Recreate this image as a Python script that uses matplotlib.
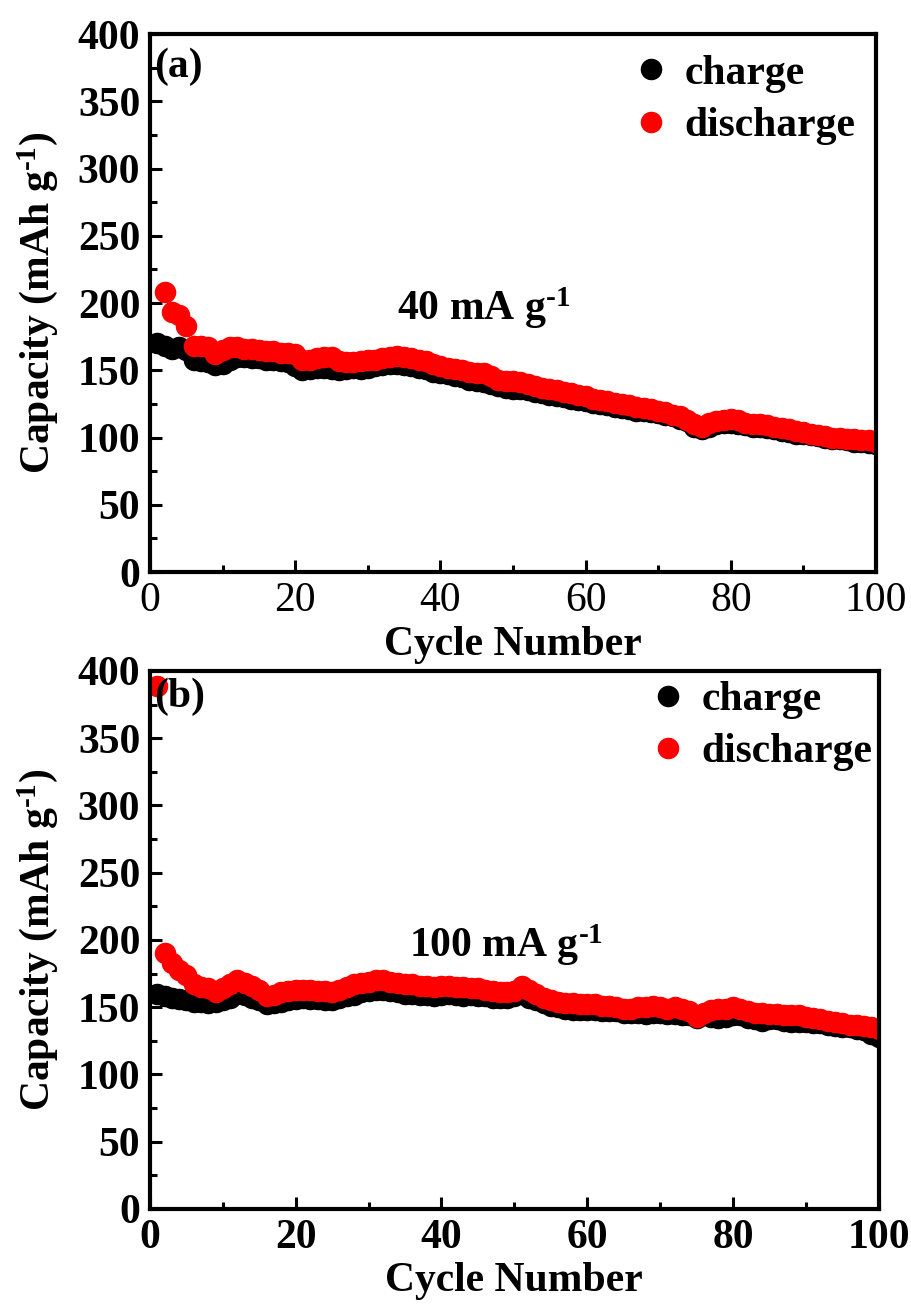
import numpy as np
import matplotlib
matplotlib.use("Agg")
import matplotlib.pyplot as plt
from matplotlib.ticker import MultipleLocator

# cycle numbers
cycles = np.arange(1, 101)

# (a) 40 mA g-1
charge_a = [170, 168, 166, 167, 165, 158, 157, 156, 154, 155,
            158, 160, 160, 159, 159, 158, 158, 157, 156, 153,
            150, 151, 152, 152, 151, 150, 151, 152, 151, 152,
            153, 154, 155, 155, 154, 153, 152, 151, 149, 148,
            147, 146, 145, 143, 142, 141, 140, 138, 137, 136,
            136, 135, 134, 133, 132, 131, 130, 129, 128, 127,
            126, 125, 124, 123, 122, 121, 120, 120, 119, 118,
            117, 116, 114, 112, 108, 106, 108, 110, 111, 111,
            110, 109, 108, 108, 107, 106, 105, 104, 103, 103,
            102, 101, 100, 99, 99, 98, 97, 97, 96, 95]
# discharge in (a) starts from cycle 2
discharge_a = [np.nan, 208, 193, 191, 183, 168, 168, 167, 162, 165,
               167, 167, 166, 166, 165, 164, 164, 163, 163, 162,
               158, 158, 159, 160, 160, 157, 156, 156, 157, 158,
               158, 159, 160, 161, 160, 159, 158, 157, 155, 153,
               152, 151, 150, 149, 148, 148, 146, 143, 142, 142,
               141, 140, 138, 137, 136, 135, 134, 133, 132, 131,
               129, 128, 127, 126, 125, 124, 123, 122, 121, 120,
               119, 117, 116, 113, 110, 108, 111, 112, 113, 114,
               113, 111, 110, 110, 109, 108, 107, 106, 105, 104,
               103, 102, 101, 100, 100, 99, 99, 98, 98, 97]

# (b) 100 mA g-1
charge_b = [160, 158, 157, 156, 155, 154, 154, 153, 154, 155,
            157, 160, 159, 157, 155, 152, 153, 154, 155, 156,
            157, 156, 156, 155, 155, 157, 158, 159, 161, 162,
            163, 163, 162, 161, 160, 160, 159, 159, 158, 159,
            160, 159, 158, 159, 158, 158, 157, 157, 157, 158,
            160, 157, 155, 153, 151, 150, 149, 148, 148, 148,
            148, 147, 147, 147, 146, 146, 146, 145, 146, 146,
            145, 145, 144, 144, 142, 144, 143, 142, 143, 144,
            144, 142, 141, 140, 141, 141, 140, 139, 139, 139,
            138, 138, 137, 136, 135, 135, 134, 133, 130, 128]
discharge_b = [389, 190, 183, 178, 174, 167, 165, 164, 161, 164,
               167, 170, 168, 166, 163, 158, 159, 161, 162, 163,
               163, 163, 162, 162, 161, 163, 165, 167, 168, 169,
               170, 170, 169, 168, 167, 167, 166, 166, 165, 166,
               166, 165, 165, 164, 164, 163, 162, 161, 161, 162,
               166, 163, 160, 157, 155, 154, 153, 153, 152, 152,
               152, 151, 151, 150, 149, 149, 150, 150, 151, 150,
               149, 150, 149, 147, 143, 146, 148, 149, 149, 150,
               149, 147, 146, 146, 145, 145, 144, 144, 144, 143,
               142, 141, 140, 139, 138, 137, 137, 136, 135, 134]

panel_tags = ["(a)", "(b)"]
rate_labels = [r"40 mA g$^{\text{-1}}$", r"100 mA g$^{\text{-1}}$"]

plt.rcParams['font.family'] = ['Liberation Serif', 'DejaVu Serif']
plt.rcParams['font.weight'] = 'bold'
plt.rcParams['mathtext.fontset'] = 'custom'
plt.rcParams['mathtext.rm'] = 'Liberation Serif:bold'
plt.rcParams['mathtext.it'] = 'Liberation Serif:bold'
plt.rcParams['mathtext.bf'] = 'Liberation Serif:bold'
plt.rcParams['mathtext.default'] = 'regular'

FS = 30

fig = plt.figure(figsize=(9.12, 13.04), dpi=100)
ax_a = fig.add_axes([0.1645, 0.5613, 0.796, 0.4126])
ax_b = fig.add_axes([0.1645, 0.0729, 0.799, 0.4126])

panels = [(ax_a, charge_a, discharge_a), (ax_b, charge_b, discharge_b)]

for i, (ax, ch, dis) in enumerate(panels):
    ax.plot(cycles, ch, 'o', color='black', markersize=14.5, linestyle='none', label='charge')
    ax.plot(cycles, dis, 'o', color='#ff0000', markersize=14.5, linestyle='none', label='discharge')

    ax.set_xlim(0, 100)
    ax.set_ylim(0, 400)
    ax.xaxis.set_major_locator(MultipleLocator(20))
    ax.xaxis.set_minor_locator(MultipleLocator(10))
    ax.yaxis.set_major_locator(MultipleLocator(50))
    ax.yaxis.set_minor_locator(MultipleLocator(25))
    ax.tick_params(which='both', direction='in', width=2.2, top=False, right=False)
    ax.tick_params(which='major', length=8.5, pad=7)
    ax.tick_params(which='minor', length=5)
    for sp in ax.spines.values():
        sp.set_linewidth(3)

    for lab in ax.get_yticklabels():
        lab.set_fontsize(FS)
        lab.set_fontweight('bold')
    for lab in ax.get_xticklabels():
        lab.set_fontsize(FS)
        # top panel x tick labels are regular weight
        lab.set_fontweight('normal' if i == 0 else 'bold')

    ax.set_xlabel("Cycle Number", fontsize=FS, fontweight='bold', labelpad=4)
    ax.set_ylabel(r"Capacity (mAh g$^{\text{-1}}$)", fontsize=FS, fontweight='bold', labelpad=13)

    ax.text(0.005, 0.94 if i == 0 else 0.952, panel_tags[i], transform=ax.transAxes,
            fontsize=FS, fontweight='bold', ha='left', va='center')
    ax.text(34 if i == 0 else 35.5, 196, rate_labels[i], fontsize=FS,
            fontweight='bold', ha='left', va='center')

    leg = ax.legend(loc='upper right', bbox_to_anchor=(1.0 if i == 0 else 1.02, 1.0 if i == 0 else 1.02),
                    frameon=False, handletextpad=0.3, labelspacing=0.34,
                    borderaxespad=0.1, handlelength=1.0, prop={'size': FS, 'weight': 'bold'})

fig.savefig("out.png", dpi=100)
